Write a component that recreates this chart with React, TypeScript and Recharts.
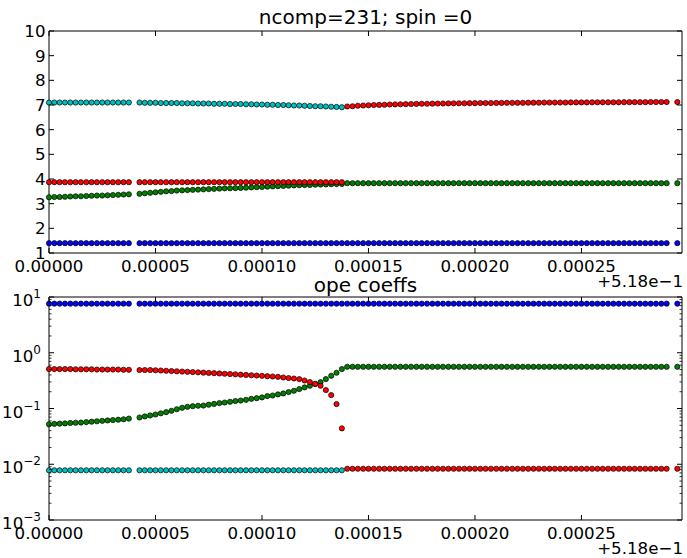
import { ScatterChart, Scatter, XAxis, YAxis, ReferenceArea } from "recharts";

// x offsets in units of 1e-6 (axis shows them with an offset of +5.18e-1)
const X = [
  0, 2.5, 5, 7.5, 10, 12.5, 15, 17.5, 20, 22.5, 25, 27.5, 30, 32.5, 35, 37.5,
  42.5, 45, 47.5, 50, 52.5, 55, 57.5, 60, 62.5, 65, 67.5,
  70, 72.5, 75, 77.5, 80, 82.5, 85, 87.5, 90, 92.5, 95, 97.5, 100, 102.5, 105, 107.5, 110, 112.5, 115, 117.5, 120,
  122.5, 125, 127.5, 130, 132.5, 135, 137.5,
  140, 142.5, 145, 147.5, 150, 152.5, 155, 157.5, 160, 162.5, 165, 167.5, 170, 172.5, 175, 177.5, 180, 182.5, 185,
  187.5, 190, 192.5, 195, 197.5, 200, 202.5, 205, 207.5, 210, 212.5, 215, 217.5, 220, 222.5, 225, 227.5, 230, 232.5,
  235, 237.5, 240, 242.5, 245, 247.5, 250, 252.5, 255, 257.5, 260, 262.5, 265, 267.5, 270, 272.5, 275, 277.5, 280,
  282.5, 285, 287.5, 290,
  295,
];

const X_TICKS = [0, 50, 100, 150, 200, 250];
const DIM_TICKS = [1, 2, 3, 4, 5, 6, 7, 8, 9, 10];
const OPE_TICKS = [
  0.001, 0.002, 0.003, 0.004, 0.005, 0.006, 0.007, 0.008, 0.009,
  0.01, 0.02, 0.03, 0.04, 0.05, 0.06, 0.07, 0.08, 0.09,
  0.1, 0.2, 0.3, 0.4, 0.5, 0.6, 0.7, 0.8, 0.9,
  1, 2, 3, 4, 5, 6, 7, 8, 9, 10,
];

// ---- top panel: dimensions ----
// 117 values, 10 per line
const blueDim = [
  1.4, 1.4, 1.4, 1.4, 1.4, 1.4, 1.4, 1.4, 1.4, 1.4,
  1.4, 1.4, 1.4, 1.4, 1.4, 1.4, 1.4, 1.4, 1.4, 1.4,
  1.4, 1.4, 1.4, 1.4, 1.4, 1.4, 1.4, 1.4, 1.4, 1.4,
  1.4, 1.4, 1.4, 1.4, 1.4, 1.4, 1.4, 1.4, 1.4, 1.4,
  1.4, 1.4, 1.4, 1.4, 1.4, 1.4, 1.4, 1.4, 1.4, 1.4,
  1.4, 1.4, 1.4, 1.4, 1.4, 1.4, 1.4, 1.4, 1.4, 1.4,
  1.4, 1.4, 1.4, 1.4, 1.4, 1.4, 1.4, 1.4, 1.4, 1.4,
  1.4, 1.4, 1.4, 1.4, 1.4, 1.4, 1.4, 1.4, 1.4, 1.4,
  1.4, 1.4, 1.4, 1.4, 1.4, 1.4, 1.4, 1.4, 1.4, 1.4,
  1.4, 1.4, 1.4, 1.4, 1.4, 1.4, 1.4, 1.4, 1.4, 1.4,
  1.4, 1.4, 1.4, 1.4, 1.4, 1.4, 1.4, 1.4, 1.4, 1.4,
  1.4, 1.4, 1.4, 1.4, 1.4, 1.4, 1.4,
];
const greenDim = [
  3.26, 3.27, 3.27, 3.28, 3.29, 3.3, 3.3, 3.31, 3.32, 3.33, 3.33, 3.34, 3.35, 3.36, 3.37, 3.38,
  3.4, 3.42, 3.44, 3.46, 3.48, 3.5, 3.51, 3.53, 3.54, 3.55, 3.56,
  3.57, 3.58, 3.59, 3.6, 3.61, 3.62, 3.625, 3.63, 3.64, 3.65, 3.66, 3.67, 3.68, 3.69, 3.7, 3.71, 3.72, 3.73, 3.74,
  3.75, 3.755, 3.76, 3.77, 3.775, 3.78, 3.79, 3.795, 3.8,
  3.83, 3.83, 3.83, 3.83, 3.83, 3.83, 3.83, 3.83, 3.83, 3.83,
  3.83, 3.83, 3.83, 3.83, 3.83, 3.83, 3.83, 3.83, 3.83, 3.83,
  3.83, 3.83, 3.83, 3.83, 3.83, 3.83, 3.83, 3.83, 3.83, 3.83,
  3.83, 3.83, 3.83, 3.83, 3.83, 3.83, 3.83, 3.83, 3.83, 3.83,
  3.83, 3.83, 3.83, 3.83, 3.83, 3.83, 3.83, 3.83, 3.83, 3.83,
  3.83, 3.83, 3.83, 3.83, 3.83, 3.83, 3.83, 3.83, 3.83, 3.83,
  3.83, 3.83,
];
const redDim = [
  3.87, 3.87, 3.87, 3.87, 3.87, 3.87, 3.87, 3.87, 3.87, 3.87, 3.87, 3.87, 3.87, 3.87, 3.87, 3.87,
  3.87, 3.87, 3.87, 3.87, 3.87, 3.87, 3.87, 3.87, 3.87, 3.87, 3.87,
  3.87, 3.87, 3.87, 3.87, 3.87, 3.87, 3.87, 3.87, 3.87, 3.87,
  3.87, 3.87, 3.87, 3.87, 3.87, 3.87, 3.87, 3.87, 3.87, 3.87,
  3.87, 3.87, 3.87, 3.87, 3.87, 3.87, 3.87, 3.87,
  6.94, 6.95, 6.97, 6.98, 6.99, 7.0, 7.005, 7.01, 7.02, 7.025,
  7.03, 7.035, 7.04, 7.045, 7.05, 7.05, 7.055, 7.06, 7.06, 7.065,
  7.07, 7.07, 7.07, 7.075, 7.075, 7.08, 7.08, 7.08, 7.085, 7.085,
  7.09, 7.09, 7.09, 7.09, 7.095, 7.095, 7.095, 7.1, 7.1, 7.1,
  7.1, 7.1, 7.105, 7.105, 7.105, 7.105, 7.11, 7.11, 7.11, 7.11,
  7.11, 7.11, 7.115, 7.115, 7.115, 7.115, 7.115, 7.12, 7.12, 7.12,
  7.12, 7.12,
];
const cyanDim = [
  7.1, 7.1, 7.1, 7.1, 7.1, 7.1, 7.1, 7.1, 7.1, 7.1, 7.1, 7.1, 7.1, 7.1, 7.1, 7.1,
  7.1, 7.09, 7.09, 7.09, 7.08, 7.08, 7.08, 7.08, 7.07, 7.07, 7.07,
  7.06, 7.06, 7.06, 7.05, 7.05, 7.05, 7.04, 7.04, 7.04, 7.03, 7.03, 7.02, 7.02, 7.01, 7.01, 7.0, 7.0, 6.99, 6.98,
  6.98, 6.97, 6.96, 6.95, 6.95, 6.94, 6.93, 6.92, 6.91,
];

// ---- bottom panel: ope coefficients ----
// 117 values, 10 per line
const blueOpe = [
  7.6, 7.6, 7.6, 7.6, 7.6, 7.6, 7.6, 7.6, 7.6, 7.6,
  7.6, 7.6, 7.6, 7.6, 7.6, 7.6, 7.6, 7.6, 7.6, 7.6,
  7.6, 7.6, 7.6, 7.6, 7.6, 7.6, 7.6, 7.6, 7.6, 7.6,
  7.6, 7.6, 7.6, 7.6, 7.6, 7.6, 7.6, 7.6, 7.6, 7.6,
  7.6, 7.6, 7.6, 7.6, 7.6, 7.6, 7.6, 7.6, 7.6, 7.6,
  7.6, 7.6, 7.6, 7.6, 7.6, 7.6, 7.6, 7.6, 7.6, 7.6,
  7.6, 7.6, 7.6, 7.6, 7.6, 7.6, 7.6, 7.6, 7.6, 7.6,
  7.6, 7.6, 7.6, 7.6, 7.6, 7.6, 7.6, 7.6, 7.6, 7.6,
  7.6, 7.6, 7.6, 7.6, 7.6, 7.6, 7.6, 7.6, 7.6, 7.6,
  7.6, 7.6, 7.6, 7.6, 7.6, 7.6, 7.6, 7.6, 7.6, 7.6,
  7.6, 7.6, 7.6, 7.6, 7.6, 7.6, 7.6, 7.6, 7.6, 7.6,
  7.6, 7.6, 7.6, 7.6, 7.6, 7.6, 7.6,
];
const greenOpe = [
  0.052, 0.053, 0.0535, 0.054, 0.055, 0.0555, 0.056, 0.057, 0.058, 0.059, 0.06, 0.061, 0.062, 0.063, 0.064, 0.066,
  0.069, 0.072, 0.075, 0.078, 0.082, 0.086, 0.091, 0.097, 0.103, 0.107, 0.11,
  0.112, 0.113, 0.117, 0.121, 0.125, 0.128, 0.132, 0.136, 0.139, 0.143, 0.149, 0.153, 0.158, 0.167, 0.171, 0.179,
  0.186, 0.197, 0.208, 0.223, 0.239, 0.256, 0.274, 0.297, 0.337, 0.386, 0.438, 0.509,
  0.56, 0.56, 0.56, 0.56, 0.56, 0.56, 0.56, 0.56, 0.56, 0.56,
  0.56, 0.56, 0.56, 0.56, 0.56, 0.56, 0.56, 0.56, 0.56, 0.56,
  0.56, 0.56, 0.56, 0.56, 0.56, 0.56, 0.56, 0.56, 0.56, 0.56,
  0.56, 0.56, 0.56, 0.56, 0.56, 0.56, 0.56, 0.56, 0.56, 0.56,
  0.56, 0.56, 0.56, 0.56, 0.56, 0.56, 0.56, 0.56, 0.56, 0.56,
  0.56, 0.56, 0.56, 0.56, 0.56, 0.56, 0.56, 0.56, 0.56, 0.56,
  0.56, 0.56,
];
const redOpe = [
  0.51, 0.51, 0.51, 0.51, 0.51, 0.505, 0.505, 0.505, 0.505, 0.5, 0.5, 0.5, 0.5, 0.5, 0.495, 0.495,
  0.49, 0.49, 0.49, 0.485, 0.48, 0.475, 0.47, 0.465, 0.46, 0.455, 0.45,
  0.445, 0.44, 0.435, 0.43, 0.425, 0.42, 0.415, 0.41, 0.405, 0.4, 0.395, 0.39, 0.385, 0.38, 0.375, 0.37, 0.36,
  0.352, 0.345, 0.337, 0.318, 0.298, 0.277, 0.256, 0.214, 0.174, 0.12, 0.044,
  0.0083, 0.0083, 0.0083, 0.0083, 0.0083, 0.0083, 0.0083, 0.0083, 0.0083, 0.0083,
  0.0083, 0.0083, 0.0083, 0.0083, 0.0083, 0.0083, 0.0083, 0.0083, 0.0083, 0.0083,
  0.0083, 0.0083, 0.0083, 0.0083, 0.0083, 0.0083, 0.0083, 0.0083, 0.0083, 0.0083,
  0.0083, 0.0083, 0.0083, 0.0083, 0.0083, 0.0083, 0.0083, 0.0083, 0.0083, 0.0083,
  0.0083, 0.0083, 0.0083, 0.0083, 0.0083, 0.0083, 0.0083, 0.0083, 0.0083, 0.0083,
  0.0083, 0.0083, 0.0083, 0.0083, 0.0083, 0.0083, 0.0083, 0.0083, 0.0083, 0.0083,
  0.0083, 0.0083,
];
const cyanOpe = [
  0.0078, 0.0078, 0.0078, 0.0078, 0.0078, 0.0078, 0.0078, 0.0078, 0.0078, 0.0078,
  0.0078, 0.0078, 0.0078, 0.0078, 0.0078, 0.0078, 0.0078, 0.0078, 0.0078, 0.0078,
  0.0078, 0.0078, 0.0078, 0.0078, 0.0078, 0.0078, 0.0078, 0.0078, 0.0078, 0.0078,
  0.0078, 0.0078, 0.0078, 0.0078, 0.0078, 0.0078, 0.0078, 0.0078, 0.0078, 0.0078,
  0.0078, 0.0078, 0.0078, 0.0078, 0.0078, 0.0078, 0.0078, 0.0078, 0.0078, 0.0078,
  0.0078, 0.0078, 0.0078, 0.0078, 0.0078,
];

const FONT = "DejaVu Sans, sans-serif";
const TICK_FS = 16.67;
const W = 687;
const PL = 49;
const PR = 682;
const X_MAX = 297.2;

const BLUE = "#0000ff";
const GREEN = "#007f00";
const RED = "#ff0000";
const CYAN = "#00bfbf";

const pts = (ys: number[]) => ys.slice(0, X.length).map((y, i) => ({ x: X[i], y }));

const dot = (color: string) => (p: any) =>
  <circle cx={p.cx} cy={p.cy} r={2.6} fill={color} stroke="#000" strokeWidth={0.7} />;

const fmtX = (v: number) => (v / 1e6).toFixed(5);

function XTick(props: any) {
  const { x, payload, top, bottom } = props;
  return (
    <g>
      <line x1={x} x2={x} y1={bottom} y2={bottom - 5} stroke="#000" />
      <line x1={x} x2={x} y1={top} y2={top + 5} stroke="#000" />
      <text x={x} y={bottom + 19} textAnchor="middle" fontSize={TICK_FS} fontFamily={FONT} fill="#000">
        {fmtX(payload.value)}
      </text>
    </g>
  );
}

function LinYTick(props: any) {
  const { y, payload } = props;
  return (
    <g>
      <line x1={PL} x2={PL + 5} y1={y} y2={y} stroke="#000" />
      <line x1={PR - 5} x2={PR} y1={y} y2={y} stroke="#000" />
      <text x={45.5} y={y} dy="0.36em" textAnchor="end" fontSize={TICK_FS} fontFamily={FONT} fill="#000">
        {payload.value}
      </text>
    </g>
  );
}

function LogYTick(props: any) {
  const { y, payload } = props;
  const lg = Math.log10(payload.value);
  const major = Math.abs(lg - Math.round(lg)) < 1e-6;
  const len = major ? 5 : 2.5;
  const exp = Math.round(lg);
  return (
    <g>
      <line x1={PL} x2={PL + len} y1={y} y2={y} stroke="#000" strokeWidth={major ? 1 : 0.8} />
      <line x1={PR - len} x2={PR} y1={y} y2={y} stroke="#000" strokeWidth={major ? 1 : 0.8} />
      {major && (
        <text x={41} y={y + 9} textAnchor="end" fontSize={TICK_FS} fontFamily={FONT} fill="#000">
          10
          <tspan dy={-8} fontSize={12}>
            {exp < 0 ? `\u2212${-exp}` : `${exp}`}
          </tspan>
        </text>
      )}
    </g>
  );
}

function DimPanel() {
  const top = 31;
  const bottom = 253;
  return (
    <ScatterChart width={W} height={280} margin={{ top, right: W - PR, bottom: 0, left: 0 }}>
      <XAxis
        type="number"
        dataKey="x"
        domain={[0, X_MAX]}
        ticks={X_TICKS}
        interval={0}
        height={280 - bottom}
        axisLine={false}
        tickLine={false}
        tick={(p: any) => <XTick {...p} top={top} bottom={bottom} />}
      />
      <YAxis
        type="number"
        dataKey="y"
        domain={[1, 10]}
        ticks={DIM_TICKS}
        interval={0}
        width={PL}
        axisLine={false}
        tickLine={false}
        tick={(p: any) => <LinYTick {...p} />}
      />
      <ReferenceArea x1={0} x2={X_MAX} y1={1} y2={10} fill="none" stroke="#000" strokeWidth={1} ifOverflow="visible" />
      <Scatter data={pts(blueDim)} shape={dot(BLUE)} isAnimationActive={false} />
      <Scatter data={pts(greenDim)} shape={dot(GREEN)} isAnimationActive={false} />
      <Scatter data={pts(redDim)} shape={dot(RED)} isAnimationActive={false} />
      <Scatter data={pts(cyanDim)} shape={dot(CYAN)} isAnimationActive={false} />
    </ScatterChart>
  );
}

function OpePanel() {
  const top = 17;
  const bottom = 240;
  return (
    <ScatterChart width={W} height={278} margin={{ top, right: W - PR, bottom: 0, left: 0 }}>
      <XAxis
        type="number"
        dataKey="x"
        domain={[0, X_MAX]}
        ticks={X_TICKS}
        interval={0}
        height={278 - bottom}
        axisLine={false}
        tickLine={false}
        tick={(p: any) => <XTick {...p} top={top} bottom={bottom} />}
      />
      <YAxis
        type="number"
        dataKey="y"
        scale="log"
        domain={[0.001, 10]}
        allowDataOverflow
        ticks={OPE_TICKS}
        interval={0}
        width={PL}
        axisLine={false}
        tickLine={false}
        tick={(p: any) => <LogYTick {...p} />}
      />
      <ReferenceArea x1={0} x2={X_MAX} y1={0.001} y2={10} fill="none" stroke="#000" strokeWidth={1} ifOverflow="visible" />
      <Scatter data={pts(blueOpe)} shape={dot(BLUE)} isAnimationActive={false} />
      <Scatter data={pts(greenOpe)} shape={dot(GREEN)} isAnimationActive={false} />
      <Scatter data={pts(redOpe)} shape={dot(RED)} isAnimationActive={false} />
      <Scatter data={pts(cyanOpe)} shape={dot(CYAN)} isAnimationActive={false} />
    </ScatterChart>
  );
}

export default function App() {
  return (
    <div style={{ position: "absolute", left: 0, top: 0, width: W, height: 558, background: "#fff" }}>
      <div style={{ position: "absolute", left: 0, top: 0 }}>
        <DimPanel />
      </div>
      <div style={{ position: "absolute", left: 0, top: 280 }}>
        <OpePanel />
      </div>
      <svg
        width={W}
        height={558}
        style={{ position: "absolute", left: 0, top: 0, pointerEvents: "none" }}
        fontFamily={FONT}
      >
        <text x={(PL + PR) / 2} y={24} textAnchor="middle" fontSize={20}>
          ncomp=231; spin =0
        </text>
        <text x={683} y={287} textAnchor="end" fontSize={TICK_FS}>
          +5.18e{"\u2212"}1
        </text>
        <text x={(PL + PR) / 2} y={292} textAnchor="middle" fontSize={20}>
          ope coeffs
        </text>
        <text x={683} y={554} textAnchor="end" fontSize={TICK_FS}>
          +5.18e{"\u2212"}1
        </text>
      </svg>
    </div>
  );
}
